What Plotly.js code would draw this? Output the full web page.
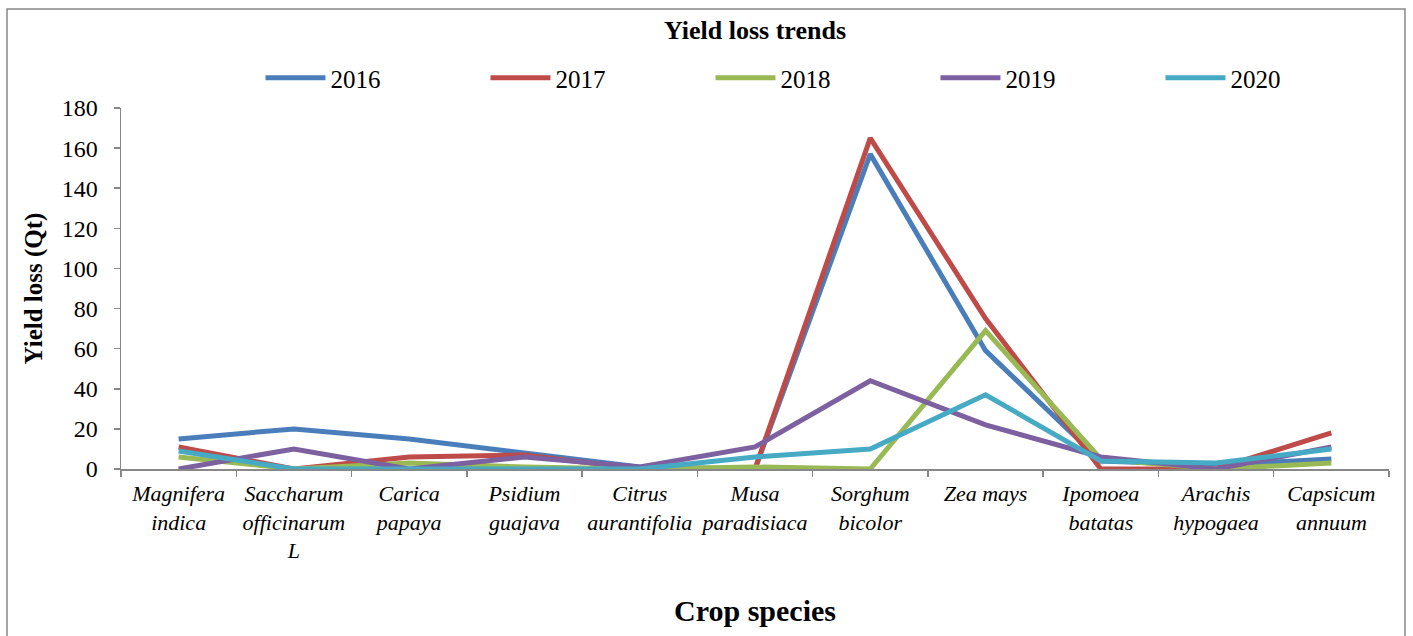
<!DOCTYPE html>
<html>
<head>
<meta charset="utf-8">
<script src="https://cdn.plot.ly/plotly-3.0.1.min.js"></script>
<style>html,body{margin:0;padding:0;background:#fff;}#chart{width:1413px;height:636px;}</style>
</head>
<body>
<div id="chart"></div>
<script>
const categories = ["Magnifera<br>indica", "Saccharum<br>officinarum<br>L", "Carica<br>papaya", "Psidium<br>guajava", "Citrus<br>aurantifolia", "Musa<br>paradisiaca", "Sorghum<br>bicolor", "Zea mays", "Ipomoea<br>batatas", "Arachis<br>hypogaea", "Capsicum<br>annuum"];
const years = ["2016", "2017", "2018", "2019", "2020"];
const y2016 = [15, 20, 15, 8, 1, 0, 157, 59, 4, 2, 5];
const y2017 = [11, 0, 6, 7, 0, 0, 165, 75, 0, 0, 18];
const y2018 = [6, 0, 3, 1, 0, 1, 0, 69, 5, 0, 3];
const y2019 = [0, 10, 0, 6, 1, 11, 44, 22, 6, 0, 11];
const y2020 = [9, 0, 0, 0, 0, 6, 10, 37, 4, 3, 10];
const colors = ["#4A7EBB", "#BE4B48", "#98B954", "#7D60A0", "#46AAC5"];
const series = [y2016, y2017, y2018, y2019, y2020];

const serif = "Liberation Serif";
const traces = series.map((vals, i) => ({
  x: categories,
  y: vals,
  name: years[i],
  type: "scatter",
  mode: "lines",
  line: {color: colors[i], width: 5}
}));

const layout = {
  width: 1413, height: 636,
  margin: {l: 121, r: 24, t: 108, b: 167},
  paper_bgcolor: "#fff", plot_bgcolor: "#fff",
  font: {family: serif, color: "#000", size: 22},
  title: {text: "<b>Yield loss trends</b>", font: {family: serif, size: 26, color: "#000"}, x: 0.5, xanchor: "center", xref: "paper", y: 1 - 30/636, yanchor: "middle"},
  showlegend: true,
  legend: {orientation: "h", x: 0.11, xanchor: "left", y: 1 + 30/361, yanchor: "middle",
           font: {family: serif, size: 25, color: "#000"},
           entrywidth: 150, entrywidthmode: "pixels", itemwidth: 60, bgcolor: "rgba(0,0,0,0)"},
  xaxis: {
    type: "category",
    range: [-0.5, 10.5],
    showgrid: false, zeroline: false,
    showline: true, linecolor: "#888", linewidth: 1.5,
    ticks: "outside", ticklen: 6, tickcolor: "#888", tickwidth: 1.5,
    tickson: "boundaries",
    ticklabelstandoff: 4,
    tickfont: {family: serif, size: 22, color: "#000", style: "italic"},
    tickangle: 0,
    title: {text: "<b>Crop species</b>", font: {family: serif, size: 30, color: "#000"}, standoff: 38},
    automargin: false
  },
  yaxis: {
    range: [0, 180], dtick: 20,
    showgrid: false, zeroline: false,
    showline: true, linecolor: "#888", linewidth: 1.5,
    ticks: "outside", ticklen: 6, tickcolor: "#888", tickwidth: 1.5,
    ticklabelstandoff: 11,
    tickfont: {family: serif, size: 24, color: "#000"},
    title: {text: "<b>Yield loss (Qt)</b>", font: {family: serif, size: 25, color: "#000"}, standoff: 12},
    automargin: false
  },
  shapes: [{type: "rect", xref: "paper", yref: "paper",
            x0: (7-121)/1268, x1: (1405-121)/1268, y0: (469-640)/361, y1: 1 + (108-9)/361,
            line: {color: "#888", width: 1.5}, fillcolor: "rgba(0,0,0,0)", layer: "below"}]
};

Plotly.newPlot("chart", traces, layout, {displayModeBar: false, staticPlot: true});
</script>
</body>
</html>
